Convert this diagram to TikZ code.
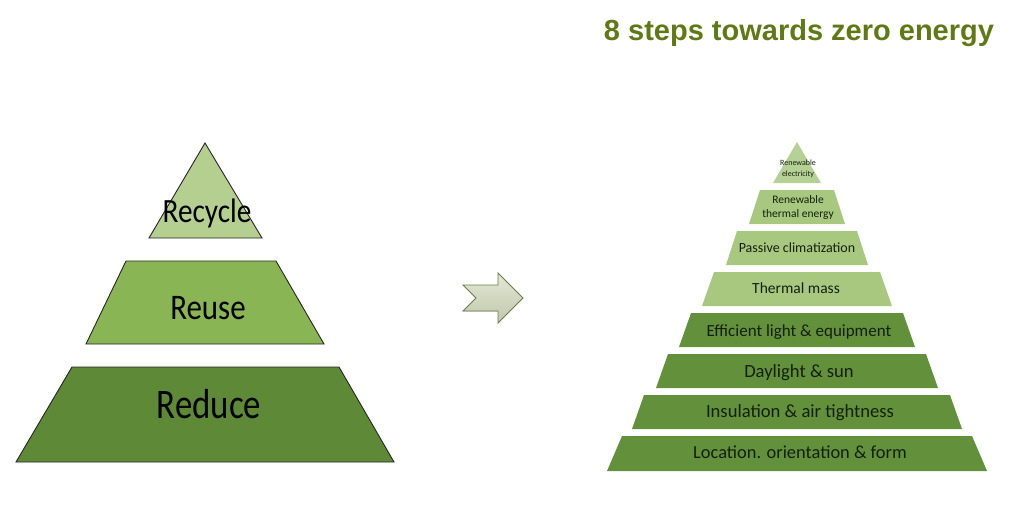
\documentclass[tikz,border=0pt]{standalone}
\usepackage{fontspec}
\setmainfont{Carlito}
\newfontfamily\arialfont{Liberation Sans}
\usetikzlibrary{calc}
\definecolor{recyclec}{HTML}{B4CF90}
\definecolor{reusec}{HTML}{8AB555}
\definecolor{reducec}{HTML}{5E8A37}
\definecolor{lightlvl}{HTML}{A8C880}
\definecolor{toplvl}{HTML}{B6D196}
\definecolor{darklvl}{HTML}{62903B}
\definecolor{titlec}{HTML}{5F7A14}
\definecolor{lvltext}{HTML}{15200C}
\definecolor{arrowfill}{HTML}{D6DEC0}
\definecolor{arrowline}{HTML}{6E7B4C}
\tikzset{
  leftlayer/.style={draw=black!85, line width=0.9pt, line join=miter},
  rightlayer/.style={draw=none},
  bigtxt/.style={inner sep=0pt, anchor=base, text=black},
  lvltxt/.style={inner sep=0pt, anchor=base, text=lvltext, align=center},
}
\begin{document}
\begin{tikzpicture}[x=1pt,y=-1pt]
\useasboundingbox (0,0) rectangle (1024,523);
\fill[white] (0,0) rectangle (1024,523);

% Title
\node[inner sep=0pt, anchor=base, text=titlec] (title) at (799,40)
  {\arialfont\bfseries\fontsize{29}{29}\selectfont 8 steps towards zero energy};

% Left pyramid
\filldraw[leftlayer, fill=recyclec] (205,143) -- (262,238) -- (149,238) -- cycle;
\filldraw[leftlayer, fill=reusec] (126,261) -- (276,261) -- (324,344) -- (86,344) -- cycle;
\filldraw[leftlayer, fill=reducec] (72,367) -- (339,367) -- (394,462) -- (16,462) -- cycle;
\node[bigtxt] (recycle) at (207,222) {\scalebox{0.86}[1]{\fontsize{34}{34}\selectfont Recycle}};
\node[bigtxt] (reuse) at (208,319) {\scalebox{0.86}[1]{\fontsize{36}{36}\selectfont Reuse}};
\node[bigtxt] (reduce) at (209,418) {\scalebox{0.83}[1]{\fontsize{42}{42}\selectfont Reduce}};

% Arrow
\filldraw[draw=arrowline, line width=0.8pt, top color=arrowfill!70!white, bottom color=arrowfill!90!black, line join=miter]
  (463,285) -- (498,285) -- (498,273) -- (523,298) -- (498,323) -- (498,311) -- (463,311) -- (476,298) -- cycle;

% Right pyramid
\def\cx{797}
\fill[toplvl] (\cx,142) -- (\cx+24,183) -- (\cx-24,183) -- cycle;
\foreach \t/\b/\ht/\hb/\c in {190/224/37/48/lightlvl, 231/265/60/71/lightlvl, 272/306/83/95/lightlvl,
  313/347/106/118/darklvl, 354/388/129/141/darklvl, 395/429/153/165/darklvl, 436/471/175/190/darklvl}{
  \fill[\c] (\cx-\ht,\t) -- (\cx+\ht,\t) -- (\cx+\hb,\b) -- (\cx-\hb,\b) -- cycle;
}
\node[lvltxt] (l1a) at (798,165) {\fontsize{8}{8}\selectfont Renewable};
\node[lvltxt] (l1b) at (798,176) {\fontsize{8}{8}\selectfont electricity};
\node[lvltxt] (l2a) at (798,203) {\fontsize{11.5}{11.5}\selectfont Renewable};
\node[lvltxt] (l2b) at (798,217) {\fontsize{11.5}{11.5}\selectfont thermal energy};
\node[lvltxt] (l3) at (797,252) {\fontsize{14}{14}\selectfont Passive climatization};
\node[lvltxt] (l4) at (796,293) {\fontsize{15.5}{15.5}\selectfont Thermal mass};
\node[lvltxt] (l5) at (799,336) {\fontsize{17}{17}\selectfont Efficient light \& equipment};
\node[lvltxt] (l6) at (799,377) {\fontsize{18.6}{18.6}\selectfont Daylight \& sun};
\node[lvltxt] (l7) at (800,417) {\fontsize{18.6}{18.6}\selectfont Insulation \& air tightness};
\node[lvltxt] (l8) at (800,458) {\fontsize{18.4}{18.4}\selectfont Location. orientation \& form};
\end{tikzpicture}
\end{document}
